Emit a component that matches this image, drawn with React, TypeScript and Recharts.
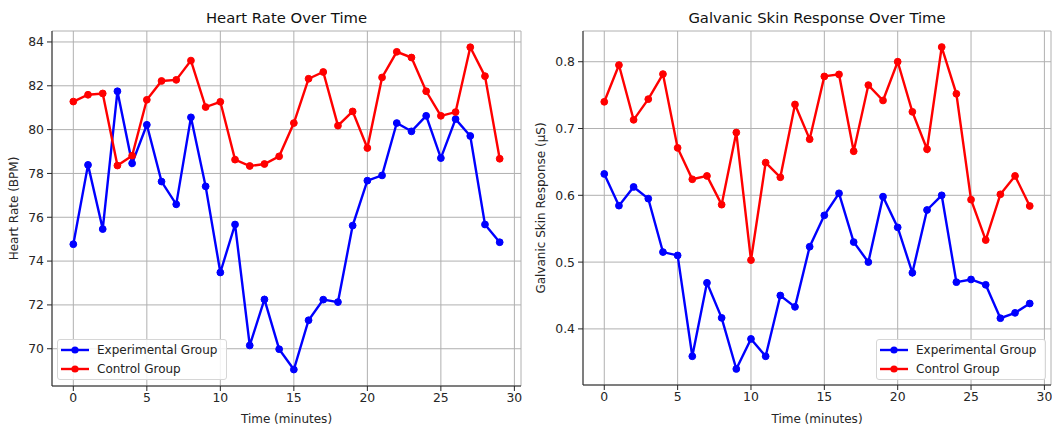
import React from 'react';
import { LineChart, Line, XAxis, YAxis, CartesianGrid, Label } from 'recharts';

const minutes = [0, 1, 2, 3, 4, 5, 6, 7, 8, 9, 10, 11, 12, 13, 14, 15, 16, 17, 18, 19, 20, 21, 22, 23, 24, 25, 26, 27, 28, 29];

const hrExperimental = [74.77, 78.39, 75.46, 81.75, 78.46, 80.22, 77.63, 76.59, 80.56, 77.41, 73.48, 75.67, 70.15, 72.25, 69.98, 69.05, 71.3, 72.24, 72.13, 75.62, 77.67, 77.91, 80.3, 79.92, 80.63, 78.7, 80.48, 79.71, 75.67, 74.86];
const hrControl = [81.28, 81.59, 81.65, 78.36, 78.81, 81.36, 82.22, 82.27, 83.15, 81.03, 81.27, 78.63, 78.34, 78.43, 78.78, 80.3, 82.32, 82.63, 80.18, 80.83, 79.16, 82.38, 83.55, 83.29, 81.75, 80.63, 80.8, 83.76, 82.44, 78.67];

const gsrExperimental = [0.632, 0.5845, 0.6125, 0.595, 0.515, 0.51, 0.359, 0.469, 0.4165, 0.34, 0.385, 0.359, 0.45, 0.433, 0.523, 0.57, 0.603, 0.53, 0.5, 0.598, 0.552, 0.484, 0.578, 0.6, 0.47, 0.474, 0.466, 0.416, 0.424, 0.438];
const gsrControl = [0.74, 0.795, 0.713, 0.744, 0.7815, 0.671, 0.624, 0.629, 0.586, 0.694, 0.503, 0.649, 0.627, 0.736, 0.684, 0.778, 0.781, 0.666, 0.765, 0.742, 0.8, 0.725, 0.669, 0.822, 0.752, 0.5935, 0.533, 0.6015, 0.629, 0.584];

const xTicks = [0, 5, 10, 15, 20, 25, 30];
const hrTicks = [70, 72, 74, 76, 78, 80, 82, 84];
const gsrTicks = [0.4, 0.5, 0.6, 0.7, 0.8];

const seriesNames = ['Experimental Group', 'Control Group'];
const seriesColors = ['#0000ff', '#ff0000'];
const titles = ['Heart Rate Over Time', 'Galvanic Skin Response Over Time'];

const FONT = "'DejaVu Sans', sans-serif";
const AXIS = '#262626';
const GRID = '#b0b0b0';

const hrData = minutes.map((t, i) => ({ t, exp: hrExperimental[i], ctrl: hrControl[i] }));
const gsrData = minutes.map((t, i) => ({ t, exp: gsrExperimental[i], ctrl: gsrControl[i] }));

function LegendBox({ left, top }: { left: number; top: number }) {
  return (
    <div
      style={{
        position: 'absolute',
        left,
        top,
        width: 170,
        height: 41,
        boxSizing: 'border-box',
        border: '1px solid #d6d6d6',
        borderRadius: 3,
        background: 'rgba(255,255,255,0.85)',
        fontFamily: FONT,
        fontSize: 12,
        color: '#222',
        paddingTop: 1,
      }}
    >
      {seriesNames.map((name, i) => (
        <div key={name} style={{ display: 'flex', alignItems: 'center', height: 18.5, paddingLeft: 3 }}>
          <svg width={28} height={10} style={{ marginRight: 8, flex: 'none' }}>
            <line x1={0} y1={5} x2={28} y2={5} stroke={seriesColors[i]} strokeWidth={2.4} />
            <circle cx={14} cy={5} r={3.6} fill={seriesColors[i]} />
          </svg>
          <span style={{ whiteSpace: 'nowrap' }}>{name}</span>
        </div>
      ))}
    </div>
  );
}

type PanelProps = {
  data: { t: number; exp: number; ctrl: number }[];
  width: number;
  marginRight: number;
  yWidth: number;
  xHeight: number;
  yDomain: [number, number];
  yTicks: number[];
  yLabel: string;
  yLabelOffset: number;
  fmt: (v: number) => string;
};

function Panel({ data, width, marginRight, yWidth, xHeight, yDomain, yTicks, yLabel, yLabelOffset, fmt }: PanelProps) {
  const tickStyle = { fill: AXIS, fontSize: 12.4, fontFamily: FONT };
  return (
    <LineChart width={width} height={428} data={data} margin={{ top: 31, right: marginRight, bottom: 0, left: 0 }}>
      <CartesianGrid stroke={GRID} strokeWidth={1} />
      <XAxis
        dataKey="t"
        type="number"
        domain={[-1.45, 30.45]}
        ticks={xTicks}
        allowDataOverflow
        height={xHeight}
        tick={tickStyle}
        tickLine={{ stroke: AXIS }}
        axisLine={{ stroke: AXIS }}
        tickSize={5}
        tickMargin={2}
        interval={0}
      >
        <Label value="Time (minutes)" position="insideBottom" offset={5} style={{ fill: AXIS, fontSize: 12, fontFamily: FONT }} />
      </XAxis>
      <XAxis
        xAxisId="top"
        dataKey="t"
        type="number"
        orientation="top"
        domain={[-1.45, 30.45]}
        allowDataOverflow
        height={0}
        tick={false}
        tickLine={false}
        axisLine={{ stroke: AXIS }}
      />
      <YAxis
        type="number"
        domain={yDomain}
        ticks={yTicks}
        allowDataOverflow
        width={yWidth}
        tick={tickStyle}
        tickFormatter={fmt}
        tickLine={{ stroke: AXIS }}
        axisLine={{ stroke: AXIS }}
        tickSize={5}
        tickMargin={3}
        interval={0}
      >
        <Label value={yLabel} angle={-90} position="insideLeft" offset={yLabelOffset} style={{ textAnchor: 'middle', fill: AXIS, fontSize: 12, fontFamily: FONT }} />
      </YAxis>
      <YAxis
        yAxisId="right"
        orientation="right"
        type="number"
        domain={yDomain}
        allowDataOverflow
        width={0}
        tick={false}
        tickLine={false}
        axisLine={{ stroke: AXIS }}
      />
      <Line
        dataKey="exp"
        name={seriesNames[0]}
        stroke={seriesColors[0]}
        strokeWidth={2.4}
        dot={{ r: 3.4, fill: seriesColors[0], stroke: seriesColors[0], strokeWidth: 1 }}
        isAnimationActive={false}
      />
      <Line
        dataKey="ctrl"
        name={seriesNames[1]}
        stroke={seriesColors[1]}
        strokeWidth={2.4}
        dot={{ r: 3.4, fill: seriesColors[1], stroke: seriesColors[1], strokeWidth: 1 }}
        isAnimationActive={false}
      />
    </LineChart>
  );
}

export default function App() {
  return (
    <div style={{ position: 'absolute', left: 0, top: 0, width: 1052, height: 428, background: '#fff', fontFamily: FONT }}>
      <div style={{ position: 'absolute', left: 0, top: 0 }}>
        <Panel
          data={hrData}
          width={530}
          marginRight={9}
          yWidth={52}
          xHeight={42}
          yDomain={[68.3, 84.5]}
          yTicks={hrTicks}
          yLabel="Heart Rate (BPM)"
          yLabelOffset={14}
          fmt={(v) => String(v)}
        />
      </div>
      <div style={{ position: 'absolute', left: 530, top: 0 }}>
        <Panel
          data={gsrData}
          width={522}
          marginRight={1}
          yWidth={53}
          xHeight={43}
          yDomain={[0.316, 0.846]}
          yTicks={gsrTicks}
          yLabel="Galvanic Skin Response (µS)"
          yLabelOffset={11}
          fmt={(v) => v.toFixed(1)}
        />
      </div>
      <svg width={1052} height={30} style={{ position: 'absolute', left: 0, top: 0, pointerEvents: 'none' }}>
        <text x={286.5} y={22.5} textAnchor="middle" fontFamily={FONT} fontSize={14.8} fill="#111">{titles[0]}</text>
        <text x={817} y={22.5} textAnchor="middle" fontFamily={FONT} fontSize={14.8} fill="#111">{titles[1]}</text>
      </svg>
      <LegendBox left={57} top={339} />
      <LegendBox left={876} top={339} />
    </div>
  );
}
